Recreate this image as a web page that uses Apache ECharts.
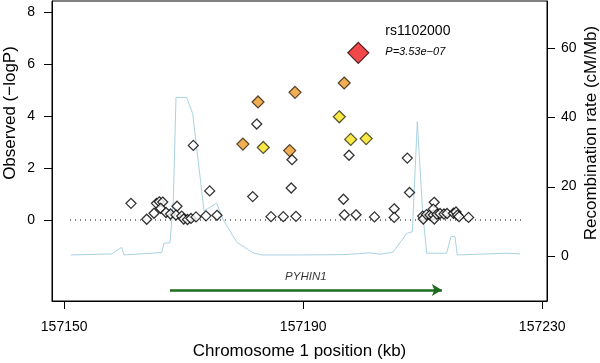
<!DOCTYPE html>
<html><head><meta charset="utf-8">
<script src="https://cdn.jsdelivr.net/npm/echarts@6/dist/echarts.min.js"></script>
<style>html,body{margin:0;padding:0;background:#fff}#c{width:600px;height:363px}</style>
</head><body><div id="c"></div>
<script>
// ---- data ----
const xTicks = [157150, 157190, 157230];
const leftTicks = [0, 2, 4, 6, 8];
const rightTicks = [0, 20, 40, 60];

const whitePos = [157161.18,157163.81,157165.03,157165.45,157165.92,157166.49,157166.15,157167.04,157167.79,157168.88,157168.71,157169.67,157170.00,157170.64,157171.22,157172.06,157173.73,157175.57,157174.35,157171.61,157181.55,157182.22,157184.61,157186.67,157188.79,157187.99,157188.13,157196.74,157197.67,157196.88,157198.84,157201.93,157205.23,157205.23,157207.42,157207.79,157210.00,157210.10,157210.64,157211.22,157211.77,157211.94,157211.92,157211.77,157212.39,157212.90,157213.56,157214.07,157215.15,157215.57,157215.82,157216.08,157217.67];
const whiteLogP = [0.64,0.03,0.26,0.64,0.70,0.69,0.45,0.29,0.23,0.53,0.19,0.15,0.04,0.02,0.06,0.12,0.16,0.18,1.12,2.87,0.90,3.69,0.13,0.13,0.14,1.23,2.32,0.80,2.49,0.20,0.20,0.12,0.43,0.10,2.38,1.06,0.15,0.04,0.21,0.19,0.19,0.04,0.68,0.42,0.22,0.25,0.23,0.25,0.26,0.31,0.19,0.13,0.10];

const orangePos = [157179.91,157182.44,157188.63,157187.74,157196.86];
const orangeLogP = [2.92,4.54,4.91,2.67,5.27];

const yellowPos = [157183.32,157196.04,157197.95,157200.54];
const yellowLogP = [2.79,3.97,3.10,3.13];

const topPos = [157199.22];
const topLogP = [6.43];
const topName = 'rs1102000';
const topP = 'P=3.53e\u221207';

const recombPos = [157151.09,157157.95,157159.62,157160.00,157166.32,157166.70,157167.71,157168.26,157168.71,157170.50,157171.51,157173.40,157175.52,157176.63,157178.87,157181.60,157183.10,157190.00,157197.00,157201.20,157203.00,157205.08,157207.32,157208.26,157209.10,157210.00,157210.67,157214.00,157214.74,157215.40,157215.79,157224.06,157226.30];
const recombRate = [0.3,0.6,2.5,0.3,1.0,3.7,3.8,16,45.7,45.7,41,13,15.2,10.4,4.0,0.9,0.3,0.3,0.4,0.9,0.5,1.2,6.5,7.0,38.7,12.3,0.8,0.8,5.6,5.6,0.3,0.8,0.6];

const baselineRange = [157150.97, 157227.1];
const geneName = 'PYHIN1';
const geneStart = 157167.7, geneEnd = 157213.2;
const geneRow = -2.69, geneLabelRow = -2.2;

// ---- chart ----
const FONT = 'Liberation Sans, Arial, Helvetica, sans-serif';
const zip = (a, b) => a.map((v, i) => [v, b[i]]);
const chart = echarts.init(document.getElementById('c'), null, {renderer: 'canvas'});
const axLine = {show: true, onZero: false, lineStyle: {color: '#000', width: 1}};
const X_MIN = 157147.96, X_MAX = 157230.8;

const option = {
  animation: false,
  backgroundColor: '#fff',
  grid: {left: 52, right: 53, top: 1, bottom: 62, show: true, borderColor: '#000', borderWidth: 1,
         containLabel: false, outerBoundsMode: 'none'},
  xAxis: {
    type: 'value', min: X_MIN, max: X_MAX,
    splitLine: {show: false}, axisLine: axLine,
    axisTick: {show: true, inside: false, length: 8, customValues: xTicks, lineStyle: {color: '#000'}},
    axisLabel: {customValues: xTicks, margin: 19, color: '#000', fontSize: 14, fontFamily: FONT, formatter: v => String(v)},
    name: 'Chromosome 1 position (kb)', nameLocation: 'middle', nameGap: 42,
    nameTextStyle: {color: '#000', fontSize: 17, fontFamily: FONT}
  },
  yAxis: [{
    type: 'value', min: -3.115, max: 8.423,
    splitLine: {show: false}, axisLine: axLine,
    axisTick: {show: false},
    axisLabel: {customValues: leftTicks, margin: 17, color: '#000', fontSize: 14, fontFamily: FONT}
  }, {
    type: 'value', position: 'right', min: -12.97, max: 73.49,
    splitLine: {show: false}, axisLine: axLine,
    axisTick: {show: false},
    axisLabel: {customValues: rightTicks, margin: 14, color: '#000', fontSize: 14, fontFamily: FONT}
  }],
  series: [
    {type: 'line', yAxisIndex: 1, data: zip(recombPos, recombRate), showSymbol: false, symbol: 'none',
     lineStyle: {color: '#A9D3E3', width: 1}, silent: true, z: 1},
    {type: 'line', data: baselineRange.map(x => [x, 0]), symbol: 'none',
     lineStyle: {color: '#000', width: 1, type: [1, 4]}, z: 2,
     markLine: {silent: true, symbol: ['none', 'arrow'], symbolSize: [9, 10],
       lineStyle: {color: '#1D6B1D', width: 2.5, type: 'solid'}, label: {show: false},
       data: [[{coord: [geneStart, geneRow]}, {coord: [geneEnd, geneRow]}]]}},
    {type: 'scatter', data: [[(geneStart + geneEnd) / 2, geneLabelRow]], symbolSize: 0,
     label: {show: true, position: 'inside', formatter: geneName, color: '#000', fontSize: 11.5, fontStyle: 'italic', fontFamily: FONT}, z: 3},
    {type: 'scatter', data: zip(whitePos, whiteLogP), symbol: 'diamond', symbolSize: [10, 10],
     itemStyle: {color: '#fff', borderColor: '#000', borderWidth: 1.3}, z: 4},
    {type: 'scatter', data: zip(orangePos, orangeLogP), symbol: 'diamond', symbolSize: [12, 12],
     itemStyle: {color: '#EE9A2A', borderColor: '#2a1c08', borderWidth: 1.2}, z: 5},
    {type: 'scatter', data: zip(yellowPos, yellowLogP), symbol: 'diamond', symbolSize: [12, 12],
     itemStyle: {color: '#F8E21A', borderColor: '#2a2a08', borderWidth: 1.2}, z: 5},
    {type: 'scatter', data: zip(topPos, topLogP), symbol: 'diamond', symbolSize: [21, 21],
     itemStyle: {color: '#EE1C1C', borderColor: '#200', borderWidth: 1.2}, z: 6}
  ]
};
chart.setOption(option);

// annotation texts, rotated axis titles, and y-axis tick marks (positions from the axis scales)
const p = chart.convertToPixel({seriesIndex: 6}, [topPos[0], topLogP[0]]);
const tickLen = 8;
const tickMarks = [];
leftTicks.forEach(v => {
  const pt = chart.convertToPixel({seriesIndex: 3}, [X_MIN, v]);   // series on left y axis
  const y = Math.round(pt[1]) + 0.5, x = Math.round(pt[0]);
  tickMarks.push({type: 'line', shape: {x1: x - tickLen, y1: y, x2: x, y2: y}, style: {stroke: '#000', lineWidth: 1}, z: 100});
});
rightTicks.forEach(v => {
  const pt = chart.convertToPixel({seriesIndex: 0}, [X_MAX, v]);   // series on right y axis
  const y = Math.round(pt[1]) + 0.5, x = Math.round(pt[0]);
  tickMarks.push({type: 'line', shape: {x1: x, y1: y, x2: x + tickLen, y2: y}, style: {stroke: '#000', lineWidth: 1}, z: 100});
});
chart.setOption({
  graphic: [
    {type: 'text', left: p[0] + 27, top: p[1] - 29, style: {text: topName, fill: '#000', font: '14px ' + FONT}},
    {type: 'text', left: p[0] + 27, top: p[1] - 6, style: {text: topP, fill: '#000', font: 'italic 11px ' + FONT}},
    {type: 'text', x: 10, y: 113, rotation: Math.PI / 2,
     style: {text: 'Observed (\u2212logP)', fill: '#000', font: '17px ' + FONT, align: 'center', verticalAlign: 'middle'}},
    {type: 'text', x: 591, y: 133, rotation: Math.PI / 2,
     style: {text: 'Recombination rate (cM/Mb)', fill: '#000', font: '17px ' + FONT, align: 'center', verticalAlign: 'middle'}}
  ].concat(tickMarks)
});
</script>
</body></html>
